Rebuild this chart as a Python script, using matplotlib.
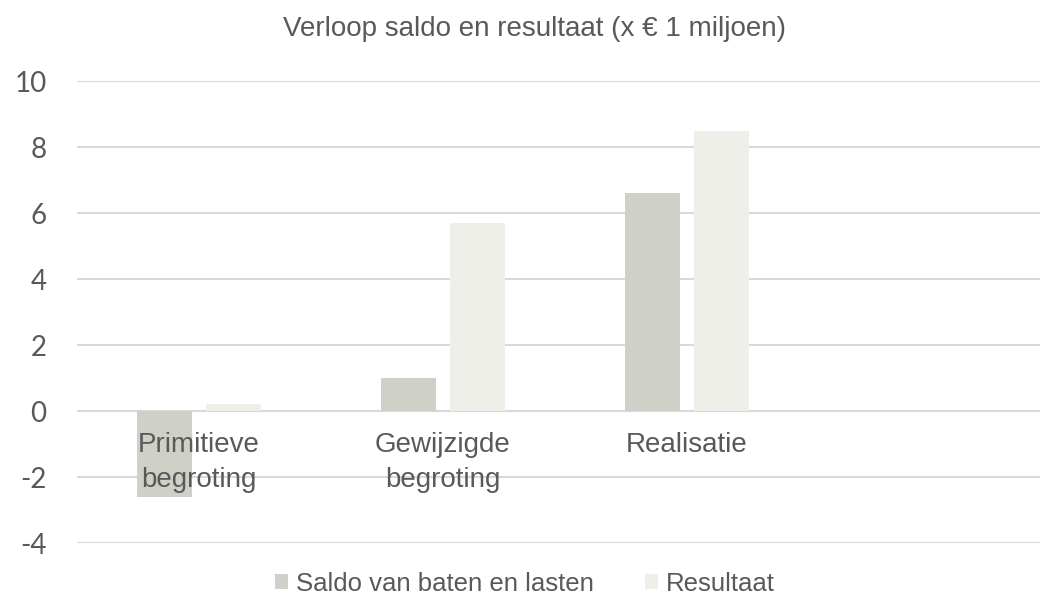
import matplotlib.pyplot as plt
import numpy as np

categories = ["Primitieve\nbegroting", "Gewijzigde\nbegroting", "Realisatie"]
saldo = [-2.6, 1.0, 6.6]
resultaat = [0.2, 5.7, 8.5]
series_names = ["Saldo van baten en lasten", "Resultaat"]
yticks = [-4, -2, 0, 2, 4, 6, 8, 10]

c_saldo = "#cfd0c8"
c_res = "#eeefe9"
txt = "#595959"
grid = "#d9d9d9"

fig = plt.figure(figsize=(10.43, 6), dpi=100)
ax = fig.add_axes([77 / 1043, 57 / 600, 963 / 1043, 462 / 600])

x = np.arange(len(categories))
w = 0.225
ax.bar(x - 0.141, saldo, w, color=c_saldo, label=series_names[0], zorder=2)
ax.bar(x + 0.141, resultaat, w, color=c_res, label=series_names[1], zorder=2)

ax.set_xlim(-0.5, 3.447)
ax.set_ylim(-4, 10)
ax.set_yticks(yticks)
ax.set_yticklabels([str(t) for t in yticks], fontsize=20, color=txt, family="Lato")
ax.tick_params(axis="y", length=0, pad=22)
ax.set_xticks([])
ax.yaxis.grid(True, color=grid, linewidth=1.5, zorder=0)
for s in ax.spines.values():
    s.set_visible(False)

for i, lab in enumerate(categories):
    ax.annotate(lab, (i, 0), xytext=(0, -15), textcoords="offset points",
                ha="center", va="top", fontsize=20, color=txt,
                family="Liberation Sans", linespacing=1.45, zorder=3)

fig.text(0.512, 0.951, "Verloop saldo en resultaat (x \u20ac 1 miljoen)",
         ha="center", va="center", fontsize=20, color=txt, family="Liberation Sans")

fig.legend(loc="center", bbox_to_anchor=(0.503, 0.027), ncol=2, frameon=False,
           prop={"family": "Liberation Sans", "size": 18.5}, labelcolor=txt,
           handlelength=0.5, handleheight=0.5, handletextpad=0.3, columnspacing=2.0)

fig.savefig("out.png", dpi=100)
